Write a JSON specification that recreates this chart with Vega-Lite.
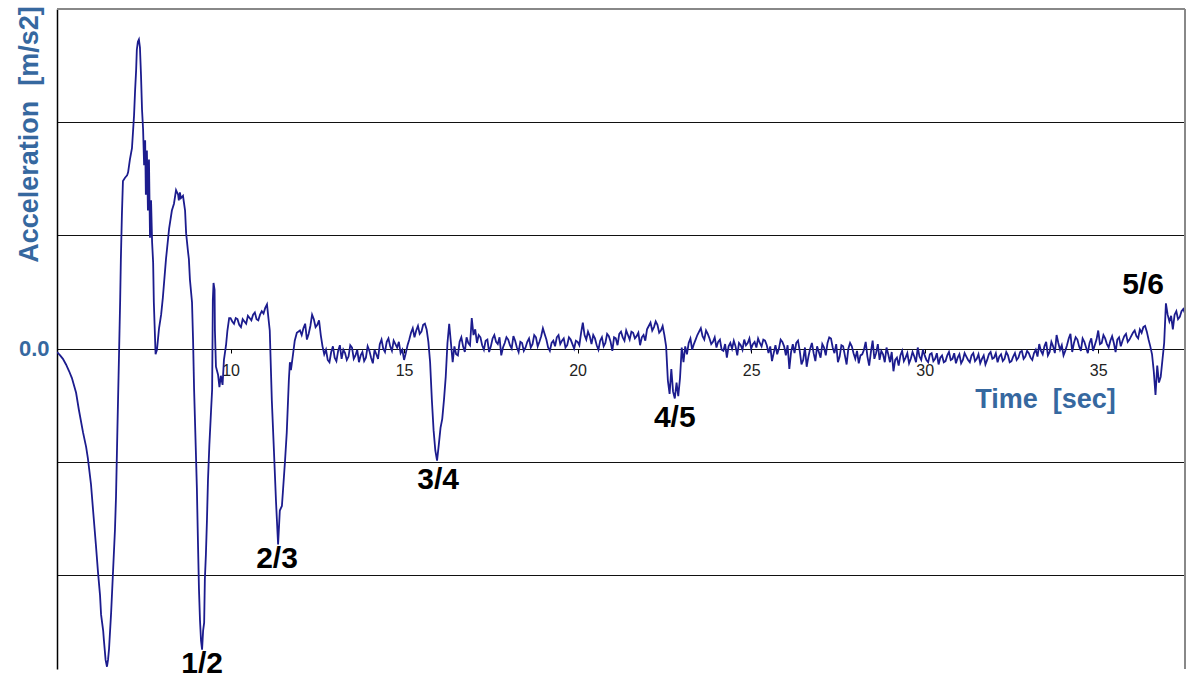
{
  "$schema": "https://vega.github.io/schema/vega-lite/v6.json",
  "width": 1128,
  "height": 660,
  "autosize": "none",
  "padding": {"left": 57, "top": 9, "right": 6, "bottom": 9},
  "background": "white",
  "config": {"view": {"stroke": null}, "font": "Liberation Sans"},
  "datasets": {
    "sig": [
      {"t":5.00,"a":-0.03},{"t":5.09,"a":-0.06},{"t":5.17,"a":-0.09},{"t":5.26,"a":-0.14},{"t":5.35,"a":-0.20},{"t":5.43,"a":-0.26},{"t":5.55,"a":-0.39},{"t":5.63,"a":-0.54},{"t":5.75,"a":-0.74},{"t":5.84,"a":-0.87},{"t":5.89,"a":-0.97},{"t":5.98,"a":-1.20},{"t":6.04,"a":-1.43},{"t":6.12,"a":-1.73},{"t":6.18,"a":-1.97},{"t":6.24,"a":-2.18},{"t":6.27,"a":-2.35},{"t":6.33,"a":-2.49},{"t":6.35,"a":-2.57},{"t":6.40,"a":-2.75},{"t":6.44,"a":-2.81},{"t":6.47,"a":-2.75},{"t":6.50,"a":-2.65},{"t":6.56,"a":-2.33},{"t":6.61,"a":-2.00},{"t":6.67,"a":-1.60},{"t":6.70,"a":-1.31},{"t":6.74,"a":-0.72},{"t":6.79,"a":-0.01},{"t":6.82,"a":0.43},{"t":6.84,"a":0.79},{"t":6.87,"a":1.18},{"t":6.90,"a":1.48},{"t":6.96,"a":1.51},{"t":7.02,"a":1.53},{"t":7.05,"a":1.56},{"t":7.10,"a":1.67},{"t":7.16,"a":1.77},{"t":7.22,"a":2.06},{"t":7.25,"a":2.28},{"t":7.28,"a":2.46},{"t":7.30,"a":2.64},{"t":7.33,"a":2.71},{"t":7.36,"a":2.73},{"t":7.39,"a":2.66},{"t":7.42,"a":2.42},{"t":7.45,"a":2.11},{"t":7.48,"a":1.94},{"t":7.51,"a":1.62},{"t":7.54,"a":1.84},{"t":7.56,"a":1.36},{"t":7.59,"a":1.75},{"t":7.62,"a":1.22},{"t":7.65,"a":1.67},{"t":7.68,"a":0.98},{"t":7.71,"a":1.31},{"t":7.74,"a":0.94},{"t":7.77,"a":0.76},{"t":7.79,"a":0.41},{"t":7.84,"a":-0.05},{"t":7.88,"a":-0.01},{"t":7.94,"a":0.18},{"t":8.00,"a":0.30},{"t":8.05,"a":0.45},{"t":8.14,"a":0.79},{"t":8.23,"a":1.06},{"t":8.31,"a":1.22},{"t":8.37,"a":1.28},{"t":8.43,"a":1.40},{"t":8.49,"a":1.36},{"t":8.51,"a":1.31},{"t":8.54,"a":1.38},{"t":8.57,"a":1.33},{"t":8.63,"a":1.35},{"t":8.69,"a":1.22},{"t":8.72,"a":1.02},{"t":8.77,"a":0.87},{"t":8.80,"a":0.79},{"t":8.83,"a":0.61},{"t":8.89,"a":0.41},{"t":8.92,"a":0.08},{"t":8.95,"a":-0.36},{"t":9.00,"a":-0.90},{"t":9.03,"a":-1.23},{"t":9.06,"a":-1.69},{"t":9.09,"a":-2.12},{"t":9.12,"a":-2.40},{"t":9.15,"a":-2.58},{"t":9.18,"a":-2.66},{"t":9.21,"a":-2.49},{"t":9.24,"a":-2.42},{"t":9.26,"a":-2.04},{"t":9.29,"a":-1.82},{"t":9.32,"a":-1.52},{"t":9.35,"a":-1.16},{"t":9.39,"a":-0.85},{"t":9.44,"a":-0.54},{"t":9.47,"a":-0.36},{"t":9.49,"a":0.43},{"t":9.51,"a":0.58},{"t":9.54,"a":0.52},{"t":9.55,"a":0.16},{"t":9.58,"a":-0.16},{"t":9.64,"a":-0.23},{"t":9.68,"a":-0.34},{"t":9.72,"a":-0.24},{"t":9.77,"a":-0.32},{"t":9.81,"a":-0.10},{"t":9.87,"a":0.03},{"t":9.91,"a":0.16},{"t":9.96,"a":0.27},
      {"t":10.0,"a":0.27},{"t":10.05,"a":0.24},{"t":10.1,"a":0.22},{"t":10.15,"a":0.27},{"t":10.2,"a":0.26},{"t":10.25,"a":0.21},{"t":10.3,"a":0.19},{"t":10.35,"a":0.26},{"t":10.4,"a":0.24},{"t":10.45,"a":0.22},{"t":10.5,"a":0.29},{"t":10.55,"a":0.27},{"t":10.6,"a":0.25},{"t":10.65,"a":0.30},{"t":10.7,"a":0.32},{"t":10.75,"a":0.26},{"t":10.8,"a":0.25},{"t":10.85,"a":0.30},{"t":10.9,"a":0.33},{"t":10.95,"a":0.31},{"t":11.0,"a":0.36},{"t":11.05,"a":0.39},
      {"t":11.13,"a":0.16},{"t":11.19,"a":-0.46},{"t":11.25,"a":-0.90},{"t":11.31,"a":-1.35},{"t":11.37,"a":-1.73},{"t":11.42,"a":-1.43},{"t":11.48,"a":-1.39},{"t":11.51,"a":-1.26},{"t":11.57,"a":-0.99},{"t":11.62,"a":-0.74},{"t":11.68,"a":-0.28},{"t":11.71,"a":-0.12},{"t":11.74,"a":-0.19},{"t":11.80,"a":-0.05},{"t":11.85,"a":0.07},{"t":11.91,"a":0.14},
      {"t":12.0,"a":0.16},{"t":12.05,"a":0.12},{"t":12.1,"a":0.18},{"t":12.15,"a":0.22},{"t":12.2,"a":0.08},{"t":12.25,"a":0.13},{"t":12.3,"a":0.20},{"t":12.35,"a":0.30},{"t":12.4,"a":0.26},{"t":12.45,"a":0.19},{"t":12.5,"a":0.21},{"t":12.55,"a":0.25},{"t":12.6,"a":0.12},{"t":12.65,"a":0.02},{"t":12.7,"a":-0.05},{"t":12.75,"a":-0.01},{"t":12.8,"a":-0.10},{"t":12.85,"a":-0.12},{"t":12.9,"a":-0.03},{"t":12.95,"a":0.02},{"t":13.0,"a":-0.08},{"t":13.05,"a":-0.11},{"t":13.1,"a":-0.02},{"t":13.15,"a":0.03},{"t":13.2,"a":-0.09},{"t":13.25,"a":-0.01},{"t":13.3,"a":-0.04},{"t":13.35,"a":-0.10},{"t":13.4,"a":-0.07},{"t":13.45,"a":0.03},{"t":13.5,"a":0.01},{"t":13.55,"a":-0.09},{"t":13.6,"a":-0.06},{"t":13.65,"a":-0.01},{"t":13.7,"a":-0.12},{"t":13.75,"a":-0.06},{"t":13.8,"a":-0.03},{"t":13.85,"a":-0.11},{"t":13.9,"a":-0.08},{"t":13.95,"a":0.02},{"t":14.0,"a":-0.02},{"t":14.05,"a":-0.08},{"t":14.1,"a":-0.13},{"t":14.15,"a":-0.01},{"t":14.2,"a":-0.05},{"t":14.25,"a":-0.09},{"t":14.3,"a":0.04},{"t":14.35,"a":0.08},{"t":14.4,"a":0.00},{"t":14.45,"a":-0.03},{"t":14.5,"a":0.06},{"t":14.55,"a":0.09},{"t":14.6,"a":0.02},{"t":14.65,"a":-0.02},{"t":14.7,"a":0.07},{"t":14.75,"a":0.04},{"t":14.8,"a":0.01},{"t":14.85,"a":0.06},{"t":14.9,"a":-0.04},{"t":14.95,"a":-0.01},{"t":15.0,"a":-0.10},{"t":15.05,"a":-0.04},{"t":15.1,"a":0.03},{"t":15.15,"a":0.08},{"t":15.2,"a":0.14},{"t":15.25,"a":0.18},{"t":15.3,"a":0.10},{"t":15.35,"a":0.16},{"t":15.4,"a":0.20},{"t":15.45,"a":0.13},{"t":15.5,"a":0.15},{"t":15.55,"a":0.21},{"t":15.6,"a":0.22},{"t":15.65,"a":0.17},{"t":15.7,"a":0.06},{"t":15.75,"a":-0.12},{"t":15.8,"a":-0.45},{"t":15.85,"a":-0.72},{"t":15.9,"a":-0.90},{"t":15.95,"a":-0.99},{"t":16.0,"a":-0.85},{"t":16.05,"a":-0.70},{"t":16.1,"a":-0.62},{"t":16.15,"a":-0.45},{"t":16.2,"a":-0.25},{"t":16.25,"a":0.05},{"t":16.3,"a":0.22},{"t":16.35,"a":0.05},{"t":16.4,"a":-0.12},{"t":16.45,"a":0.02},{"t":16.5,"a":-0.05},{"t":16.55,"a":-0.06},{"t":16.6,"a":0.06},{"t":16.65,"a":0.10},{"t":16.7,"a":0.02},{"t":16.75,"a":-0.03},{"t":16.8,"a":0.10},{"t":16.85,"a":0.05},{"t":16.9,"a":0.03},{"t":16.95,"a":0.27},{"t":17.0,"a":0.12},{"t":17.05,"a":0.17},{"t":17.1,"a":0.05},{"t":17.15,"a":0.12},{"t":17.2,"a":0.10},{"t":17.25,"a":0.03},{"t":17.3,"a":-0.01},{"t":17.35,"a":0.07},{"t":17.4,"a":0.08},{"t":17.45,"a":-0.03},{"t":17.5,"a":0.02},{"t":17.55,"a":0.09},{"t":17.6,"a":0.12},{"t":17.65,"a":0.06},{"t":17.7,"a":0.04},{"t":17.75,"a":0.10},{"t":17.8,"a":-0.06},{"t":17.85,"a":0.01},{"t":17.9,"a":0.05},{"t":17.95,"a":0.10},{"t":18.0,"a":0.08},{"t":18.05,"a":0.03},{"t":18.1,"a":0.00},{"t":18.15,"a":0.11},{"t":18.2,"a":0.07},{"t":18.25,"a":0.01},{"t":18.3,"a":-0.03},{"t":18.35,"a":0.06},{"t":18.4,"a":0.05},{"t":18.45,"a":-0.02},{"t":18.5,"a":0.01},{"t":18.55,"a":0.06},{"t":18.6,"a":0.09},{"t":18.65,"a":0.01},{"t":18.7,"a":0.04},{"t":18.75,"a":0.12},{"t":18.8,"a":0.10},{"t":18.85,"a":0.02},{"t":18.9,"a":0.06},{"t":18.95,"a":0.11},{"t":19.0,"a":0.18},{"t":19.05,"a":0.13},{"t":19.1,"a":0.08},{"t":19.15,"a":0.01},{"t":19.2,"a":-0.02},{"t":19.25,"a":0.05},{"t":19.3,"a":0.07},{"t":19.35,"a":0.02},{"t":19.4,"a":0.10},{"t":19.45,"a":0.12},{"t":19.5,"a":0.04},{"t":19.55,"a":0.07},{"t":19.6,"a":0.09},{"t":19.65,"a":0.01},{"t":19.7,"a":0.03},{"t":19.75,"a":0.10},{"t":19.8,"a":0.08},{"t":19.85,"a":0.04},{"t":19.9,"a":0.00},{"t":19.95,"a":0.07},{"t":20.0,"a":0.06},{"t":20.05,"a":0.03},{"t":20.1,"a":0.14},{"t":20.15,"a":0.23},{"t":20.2,"a":0.12},{"t":20.25,"a":0.08},{"t":20.3,"a":0.15},{"t":20.35,"a":0.11},{"t":20.4,"a":0.04},{"t":20.45,"a":0.12},{"t":20.5,"a":0.09},{"t":20.55,"a":0.03},{"t":20.6,"a":-0.01},{"t":20.65,"a":0.07},{"t":20.7,"a":0.10},{"t":20.75,"a":0.02},{"t":20.8,"a":0.05},{"t":20.85,"a":0.13},{"t":20.9,"a":0.11},{"t":20.95,"a":0.06},{"t":21.0,"a":-0.02},{"t":21.05,"a":0.10},{"t":21.1,"a":0.09},{"t":21.15,"a":0.03},{"t":21.2,"a":0.13},{"t":21.25,"a":0.15},{"t":21.3,"a":0.10},{"t":21.35,"a":0.07},{"t":21.4,"a":0.16},{"t":21.45,"a":0.12},{"t":21.5,"a":0.08},{"t":21.55,"a":0.15},{"t":21.6,"a":0.14},{"t":21.65,"a":0.09},{"t":21.7,"a":0.11},{"t":21.75,"a":0.14},{"t":21.8,"a":0.03},{"t":21.85,"a":0.10},{"t":21.9,"a":0.12},{"t":21.95,"a":0.07},{"t":22.0,"a":0.17},{"t":22.05,"a":0.20},{"t":22.1,"a":0.23},{"t":22.15,"a":0.16},{"t":22.2,"a":0.19},{"t":22.25,"a":0.24},{"t":22.3,"a":0.21},{"t":22.35,"a":0.14},{"t":22.4,"a":0.16},{"t":22.45,"a":0.20},{"t":22.5,"a":0.12},{"t":22.55,"a":0.02},{"t":22.6,"a":-0.28},{"t":22.65,"a":-0.40},{"t":22.7,"a":-0.18},{"t":22.75,"a":-0.38},{"t":22.8,"a":-0.44},{"t":22.85,"a":-0.30},{"t":22.9,"a":-0.42},{"t":22.95,"a":-0.26},{"t":23.0,"a":0.01},{"t":23.05,"a":-0.12},{"t":23.1,"a":0.02},{"t":23.15,"a":-0.05},{"t":23.2,"a":0.05},{"t":23.25,"a":0.09},{"t":23.3,"a":-0.01},{"t":23.35,"a":0.04},{"t":23.4,"a":0.08},{"t":23.45,"a":0.12},{"t":23.5,"a":0.15},{"t":23.55,"a":0.18},{"t":23.6,"a":0.11},{"t":23.65,"a":0.08},{"t":23.7,"a":0.16},{"t":23.75,"a":0.13},{"t":23.8,"a":0.09},{"t":23.85,"a":0.04},{"t":23.9,"a":0.06},{"t":23.95,"a":0.10},{"t":24.0,"a":0.01},{"t":24.05,"a":0.06},{"t":24.1,"a":0.08},{"t":24.15,"a":-0.01},{"t":24.2,"a":-0.02},{"t":24.25,"a":0.04},{"t":24.3,"a":-0.08},{"t":24.35,"a":0.02},{"t":24.4,"a":0.05},{"t":24.45,"a":0.00},{"t":24.5,"a":0.07},{"t":24.55,"a":0.02},{"t":24.6,"a":-0.06},{"t":24.65,"a":0.05},{"t":24.7,"a":0.03},{"t":24.75,"a":-0.01},{"t":24.8,"a":0.08},{"t":24.85,"a":0.03},{"t":24.9,"a":0.05},{"t":24.95,"a":0.09},{"t":25.0,"a":0.00},{"t":25.05,"a":0.04},{"t":25.1,"a":0.06},{"t":25.15,"a":0.01},{"t":25.2,"a":0.09},{"t":25.25,"a":0.05},{"t":25.3,"a":0.02},{"t":25.35,"a":0.08},{"t":25.4,"a":0.07},{"t":25.45,"a":0.03},{"t":25.5,"a":-0.04},{"t":25.55,"a":0.02},{"t":25.6,"a":-0.11},{"t":25.65,"a":-0.04},{"t":25.7,"a":0.03},{"t":25.75,"a":-0.05},{"t":25.8,"a":0.00},{"t":25.85,"a":0.08},{"t":25.9,"a":0.06},{"t":25.95,"a":0.02},{"t":26.0,"a":-0.06},{"t":26.05,"a":0.03},{"t":26.1,"a":-0.18},{"t":26.15,"a":-0.03},{"t":26.2,"a":0.04},{"t":26.25,"a":-0.04},{"t":26.3,"a":0.05},{"t":26.35,"a":0.07},{"t":26.4,"a":-0.02},{"t":26.45,"a":-0.14},{"t":26.5,"a":-0.10},{"t":26.55,"a":0.01},{"t":26.6,"a":-0.16},{"t":26.65,"a":-0.07},{"t":26.7,"a":0.00},{"t":26.75,"a":0.05},{"t":26.8,"a":-0.04},{"t":26.85,"a":-0.11},{"t":26.9,"a":0.02},{"t":26.95,"a":-0.03},{"t":27.0,"a":-0.08},{"t":27.05,"a":0.04},{"t":27.1,"a":0.01},{"t":27.15,"a":-0.06},{"t":27.2,"a":0.05},{"t":27.25,"a":0.10},{"t":27.3,"a":0.09},{"t":27.35,"a":0.01},{"t":27.4,"a":-0.04},{"t":27.45,"a":0.04},{"t":27.5,"a":-0.12},{"t":27.55,"a":-0.07},{"t":27.6,"a":0.03},{"t":27.65,"a":0.02},{"t":27.7,"a":-0.06},{"t":27.75,"a":-0.14},{"t":27.8,"a":0.00},{"t":27.85,"a":0.05},{"t":27.9,"a":0.02},{"t":27.95,"a":-0.04},{"t":28.0,"a":-0.09},{"t":28.05,"a":-0.02},{"t":28.1,"a":-0.13},{"t":28.15,"a":-0.06},{"t":28.2,"a":-0.05},{"t":28.25,"a":-0.01},{"t":28.3,"a":0.06},{"t":28.35,"a":-0.07},{"t":28.4,"a":-0.15},{"t":28.45,"a":-0.03},{"t":28.5,"a":0.07},{"t":28.55,"a":-0.09},{"t":28.6,"a":-0.04},{"t":28.65,"a":0.04},{"t":28.7,"a":-0.10},{"t":28.75,"a":-0.02},{"t":28.8,"a":-0.05},{"t":28.85,"a":-0.12},{"t":28.9,"a":0.01},{"t":28.95,"a":-0.05},{"t":29.0,"a":-0.12},{"t":29.05,"a":-0.03},{"t":29.1,"a":-0.20},{"t":29.15,"a":-0.10},{"t":29.2,"a":-0.08},{"t":29.25,"a":-0.15},{"t":29.3,"a":-0.06},{"t":29.35,"a":-0.02},{"t":29.4,"a":-0.11},{"t":29.45,"a":-0.08},{"t":29.5,"a":-0.04},{"t":29.55,"a":-0.13},{"t":29.6,"a":-0.09},{"t":29.65,"a":-0.03},{"t":29.7,"a":-0.07},{"t":29.75,"a":-0.12},{"t":29.8,"a":0.01},{"t":29.85,"a":-0.07},{"t":29.9,"a":-0.10},{"t":29.95,"a":-0.01},{"t":30.0,"a":-0.06},{"t":30.05,"a":-0.10},{"t":30.1,"a":-0.12},{"t":30.15,"a":-0.05},{"t":30.2,"a":-0.04},{"t":30.25,"a":-0.11},{"t":30.3,"a":-0.09},{"t":30.35,"a":-0.04},{"t":30.4,"a":-0.14},{"t":30.45,"a":-0.08},{"t":30.5,"a":-0.06},{"t":30.55,"a":-0.12},{"t":30.6,"a":-0.11},{"t":30.65,"a":-0.06},{"t":30.7,"a":-0.03},{"t":30.75,"a":-0.10},{"t":30.8,"a":-0.09},{"t":30.85,"a":-0.04},{"t":30.9,"a":-0.13},{"t":30.95,"a":-0.08},{"t":31.0,"a":-0.05},{"t":31.05,"a":-0.13},{"t":31.1,"a":-0.10},{"t":31.15,"a":-0.04},{"t":31.2,"a":-0.07},{"t":31.25,"a":-0.10},{"t":31.3,"a":-0.12},{"t":31.35,"a":-0.06},{"t":31.4,"a":-0.04},{"t":31.45,"a":-0.11},{"t":31.5,"a":-0.09},{"t":31.55,"a":-0.05},{"t":31.6,"a":-0.13},{"t":31.65,"a":-0.09},{"t":31.7,"a":-0.06},{"t":31.75,"a":-0.14},{"t":31.8,"a":-0.10},{"t":31.85,"a":-0.05},{"t":31.9,"a":-0.03},{"t":31.95,"a":-0.09},{"t":32.0,"a":-0.08},{"t":32.05,"a":-0.04},{"t":32.1,"a":-0.12},{"t":32.15,"a":-0.07},{"t":32.2,"a":-0.05},{"t":32.25,"a":-0.11},{"t":32.3,"a":-0.09},{"t":32.35,"a":-0.03},{"t":32.4,"a":-0.06},{"t":32.45,"a":-0.12},{"t":32.5,"a":-0.11},{"t":32.55,"a":-0.07},{"t":32.6,"a":-0.04},{"t":32.65,"a":-0.10},{"t":32.7,"a":-0.08},{"t":32.75,"a":-0.03},{"t":32.8,"a":-0.02},{"t":32.85,"a":-0.09},{"t":32.9,"a":-0.07},{"t":32.95,"a":-0.02},{"t":33.0,"a":-0.04},{"t":33.05,"a":-0.08},{"t":33.1,"a":-0.10},{"t":33.15,"a":-0.04},{"t":33.2,"a":-0.01},{"t":33.25,"a":-0.07},{"t":33.3,"a":0.04},{"t":33.35,"a":-0.02},{"t":33.4,"a":-0.05},{"t":33.45,"a":0.02},{"t":33.5,"a":0.06},{"t":33.55,"a":-0.06},{"t":33.6,"a":-0.03},{"t":33.65,"a":0.06},{"t":33.7,"a":0.02},{"t":33.75,"a":-0.04},{"t":33.8,"a":0.12},{"t":33.85,"a":0.05},{"t":33.9,"a":-0.01},{"t":33.95,"a":0.03},{"t":34.0,"a":-0.06},{"t":34.05,"a":-0.02},{"t":34.1,"a":0.03},{"t":34.15,"a":0.09},{"t":34.2,"a":0.13},{"t":34.25,"a":-0.03},{"t":34.3,"a":0.05},{"t":34.35,"a":0.10},{"t":34.4,"a":0.08},{"t":34.45,"a":0.02},{"t":34.5,"a":-0.02},{"t":34.55,"a":0.09},{"t":34.6,"a":0.06},{"t":34.65,"a":0.01},{"t":34.7,"a":-0.04},{"t":34.75,"a":0.05},{"t":34.8,"a":0.09},{"t":34.85,"a":-0.02},{"t":34.9,"a":0.03},{"t":34.95,"a":0.08},{"t":35.0,"a":0.16},{"t":35.05,"a":0.04},{"t":35.1,"a":0.05},{"t":35.15,"a":0.12},{"t":35.2,"a":0.09},{"t":35.25,"a":0.04},{"t":35.3,"a":0.01},{"t":35.35,"a":0.07},{"t":35.4,"a":0.11},{"t":35.45,"a":0.05},{"t":35.5,"a":-0.03},{"t":35.55,"a":0.08},{"t":35.6,"a":0.10},{"t":35.65,"a":0.02},{"t":35.7,"a":0.07},{"t":35.75,"a":0.11},{"t":35.8,"a":0.13},{"t":35.85,"a":0.06},{"t":35.9,"a":0.08},{"t":35.95,"a":0.11},{"t":36.0,"a":0.14},{"t":36.05,"a":0.16},{"t":36.1,"a":0.11},{"t":36.15,"a":0.09},{"t":36.2,"a":0.17},{"t":36.25,"a":0.14},{"t":36.3,"a":0.19},{"t":36.35,"a":0.20},{"t":36.4,"a":0.15},{"t":36.45,"a":0.08},{"t":36.5,"a":0.02},{"t":36.55,"a":-0.05},{"t":36.6,"a":-0.20},{"t":36.65,"a":-0.41},{"t":36.7,"a":-0.15},{"t":36.75,"a":-0.30},{"t":36.8,"a":-0.25},{"t":36.85,"a":-0.10},{"t":36.9,"a":0.05},{"t":36.95,"a":0.40},{"t":37.0,"a":0.30},{"t":37.05,"a":0.24},{"t":37.1,"a":0.29},{"t":37.15,"a":0.17},{"t":37.2,"a":0.30},{"t":37.25,"a":0.33},{"t":37.3,"a":0.26},{"t":37.35,"a":0.28},{"t":37.4,"a":0.33},{"t":37.45,"a":0.35},{"t":37.5,"a":0.31}
    ],
    "lbl": [
      {"t":9.18,"a":-2.79,"label":"1/2"},
      {"t":11.34,"a":-1.86,"label":"2/3"},
      {"t":15.98,"a":-1.16,"label":"3/4"},
      {"t":22.80,"a":-0.61,"label":"4/5"},
      {"t":36.29,"a":0.56,"label":"5/6"}
    ]
  },
  "layer": [
    {
      "data": {"name": "sig"},
      "mark": {"type": "line", "color": "#1c1c8e", "strokeWidth": 1.8, "clip": true},
      "encoding": {
        "x": {
          "field": "t", "type": "quantitative",
          "scale": {"domain": [5, 37.5], "nice": false, "zero": false},
          "axis": {
            "values": [10, 15, 20, 25, 30, 35],
            "offset": -320,
            "domain": false,
            "grid": false,
            "ticks": true,
            "tickSize": 4,
            "tickColor": "#000",
            "labelFontSize": 16,
            "labelColor": "#222",
            "labelPadding": 9,
            "labelFont": "Liberation Sans",
            "title": "Time\u00a0 [sec]",
            "titleFont": "Liberation Sans",
            "titleFontSize": 27,
            "titleFontWeight": "bold",
            "titleColor": "#36689f",
            "titleX": 988,
            "titleY": 58,
            "titleBaseline": "alphabetic",
            "titleAlign": "center"
          }
        },
        "y": {
          "field": "a", "type": "quantitative",
          "scale": {"domain": [-2.83, 3], "nice": false, "zero": false},
          "axis": {
            "values": [-2, -1, 0, 1, 2],
            "grid": true,
            "gridColor": "#111",
            "gridWidth": 1,
            "gridOpacity": 1,
            "domain": true,
            "domainColor": "#000",
            "domainWidth": 1.5,
            "ticks": false,
            "labelExpr": "datum.value === 0 ? '0.0' : ''",
            "labelFont": "Liberation Sans",
            "labelFontSize": 22,
            "labelFontWeight": "bold",
            "labelColor": "#36689f",
            "labelPadding": 8,
            "labelBaseline": "middle",
            "title": "Acceleration\u00a0 [m/s2]",
            "titleFont": "Liberation Sans",
            "titleFontSize": 27,
            "titleFontWeight": "bold",
            "titleColor": "#36689f",
            "titleAngle": -90,
            "titleX": -20,
            "titleY": 125,
            "titleAlign": "center",
            "titleBaseline": "alphabetic"
          }
        }
      }
    },
    {
      "data": {"values": [{}]},
      "mark": {"type": "rule", "color": "#888", "strokeWidth": 2},
      "encoding": {"y": {"datum": 3}}
    },
    {
      "data": {"values": [{}]},
      "mark": {"type": "rule", "color": "#888", "strokeWidth": 2},
      "encoding": {"x": {"datum": 37.5}}
    },
    {
      "data": {"name": "lbl"},
      "mark": {"type": "text", "font": "Liberation Sans", "fontSize": 30, "fontWeight": "bold", "color": "#000", "align": "center", "baseline": "middle"},
      "encoding": {
        "x": {"field": "t", "type": "quantitative"},
        "y": {"field": "a", "type": "quantitative"},
        "text": {"field": "label"}
      }
    }
  ]
}
